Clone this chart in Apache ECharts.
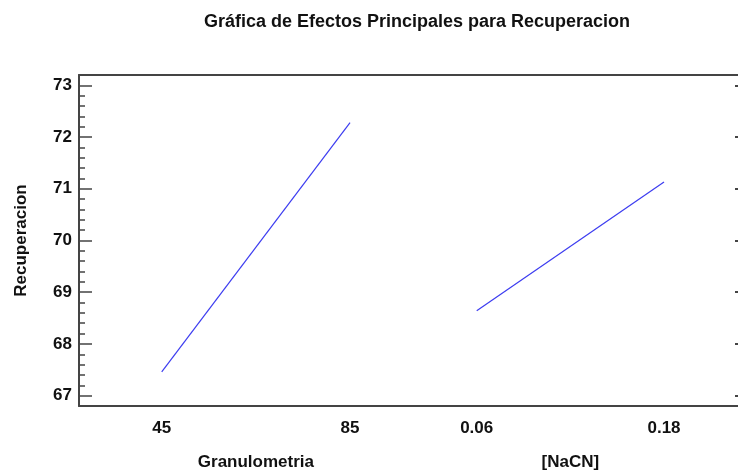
<!DOCTYPE html>
<html>
<head>
<meta charset="utf-8">
<script src="https://cdn.jsdelivr.net/npm/echarts@6/dist/echarts.min.js"></script>
<style>
  html, body { margin: 0; padding: 0; background: #fff; }
  #chart { width: 738px; height: 475px; }
</style>
</head>
<body>
<div id="chart"></div>
<script>
// factor levels and the fitted means at each level
const granuLevels = [45, 85];
const granuMeans = [67.46, 72.28];
const naCNLevels = [0.06, 0.18];
const naCNMeans = [68.64, 71.13];
const yTicks = [67, 68, 69, 70, 71, 72, 73];

// minor ticks every 0.2 between the integer ticks
const yMinor = [];
for (let v = 67; v < 73; v++) {
  for (let k = 1; k < 5; k++) yMinor.push(+(v + k * 0.2).toFixed(1));
}

const labelFont = { fontFamily: 'Liberation Sans', fontWeight: 'bold', fontSize: 17, color: '#111' };
const axisColor = '#444';

const chart = echarts.init(document.getElementById('chart'));

chart.setOption({
  animation: false,
  title: {
    text: 'Gráfica de Efectos Principales para Recuperacion',
    left: 412,
    top: 8,
    textAlign: 'center',
    textStyle: { fontFamily: 'Liberation Sans', fontWeight: 'bold', fontSize: 18, color: '#111' }
  },
  grid: { left: 79, right: 0, top: 75, bottom: 69 },
  xAxis: [
    {
      type: 'value',
      position: 'bottom',
      min: 27.43,
      max: 167.4,
      axisLine: { show: true, onZero: false, lineStyle: { color: axisColor, width: 2 } },
      axisTick: { show: false },
      splitLine: { show: false },
      axisLabel: { customValues: granuLevels, margin: 14, ...labelFont }
    },
    {
      type: 'value',
      position: 'bottom',
      min: -0.1948,
      max: 0.2274,
      axisLine: { show: false, onZero: false },
      axisTick: { show: false },
      splitLine: { show: false },
      axisLabel: { customValues: naCNLevels, margin: 14, ...labelFont }
    },
    {
      type: 'value',
      position: 'top',
      min: 0,
      max: 1,
      axisLine: { show: true, onZero: false, lineStyle: { color: axisColor, width: 2 } },
      axisTick: { show: false },
      axisLabel: { show: false },
      splitLine: { show: false }
    }
  ],
  yAxis: [
    {
      type: 'value',
      position: 'left',
      min: 66.8,
      max: 73.2,
      name: 'Recuperacion',
      nameLocation: 'middle',
      nameGap: 49,
      nameTextStyle: labelFont,
      axisLine: { show: true, onZero: false, lineStyle: { color: axisColor, width: 2 } },
      axisTick: { show: true, inside: true, length: 13, customValues: yTicks, lineStyle: { color: axisColor, width: 1.5 } },
      axisLabel: { customValues: yTicks, margin: 7, ...labelFont },
      splitLine: { show: false }
    },
    {
      type: 'value',
      position: 'left',
      min: 66.8,
      max: 73.2,
      axisLine: { show: false, onZero: false },
      axisTick: { show: true, inside: true, length: 6, customValues: yMinor, lineStyle: { color: axisColor, width: 1.5 } },
      axisLabel: { show: false },
      splitLine: { show: false }
    },
    {
      type: 'value',
      position: 'right',
      min: 66.8,
      max: 73.2,
      axisLine: { show: false, onZero: false },
      axisTick: { show: true, inside: true, length: 3, customValues: yTicks, lineStyle: { color: axisColor, width: 2 } },
      axisLabel: { show: false },
      splitLine: { show: false }
    }
  ],
  series: [
    {
      type: 'line',
      xAxisIndex: 0,
      yAxisIndex: 0,
      data: granuLevels.map((x, i) => [x, granuMeans[i]]),
      symbol: 'none',
      lineStyle: { color: '#3c3cf0', width: 1.2 }
    },
    {
      type: 'line',
      xAxisIndex: 1,
      yAxisIndex: 0,
      data: naCNLevels.map((x, i) => [x, naCNMeans[i]]),
      symbol: 'none',
      lineStyle: { color: '#3c3cf0', width: 1.2 }
    }
  ]
});

// factor names, centred under each pair of levels
const factorNames = [
  { text: 'Granulometria', axis: 0, levels: granuLevels },
  { text: '[NaCN]', axis: 1, levels: naCNLevels }
];
chart.setOption({
  graphic: factorNames.map(f => {
    const mid = (f.levels[0] + f.levels[1]) / 2;
    const px = chart.convertToPixel({ xAxisIndex: f.axis }, mid);
    return {
      type: 'text',
      x: px,
      y: 462,
      style: { text: f.text, align: 'center', verticalAlign: 'middle', font: 'bold 17px "Liberation Sans"', fill: '#111' }
    };
  })
});
</script>
</body>
</html>
